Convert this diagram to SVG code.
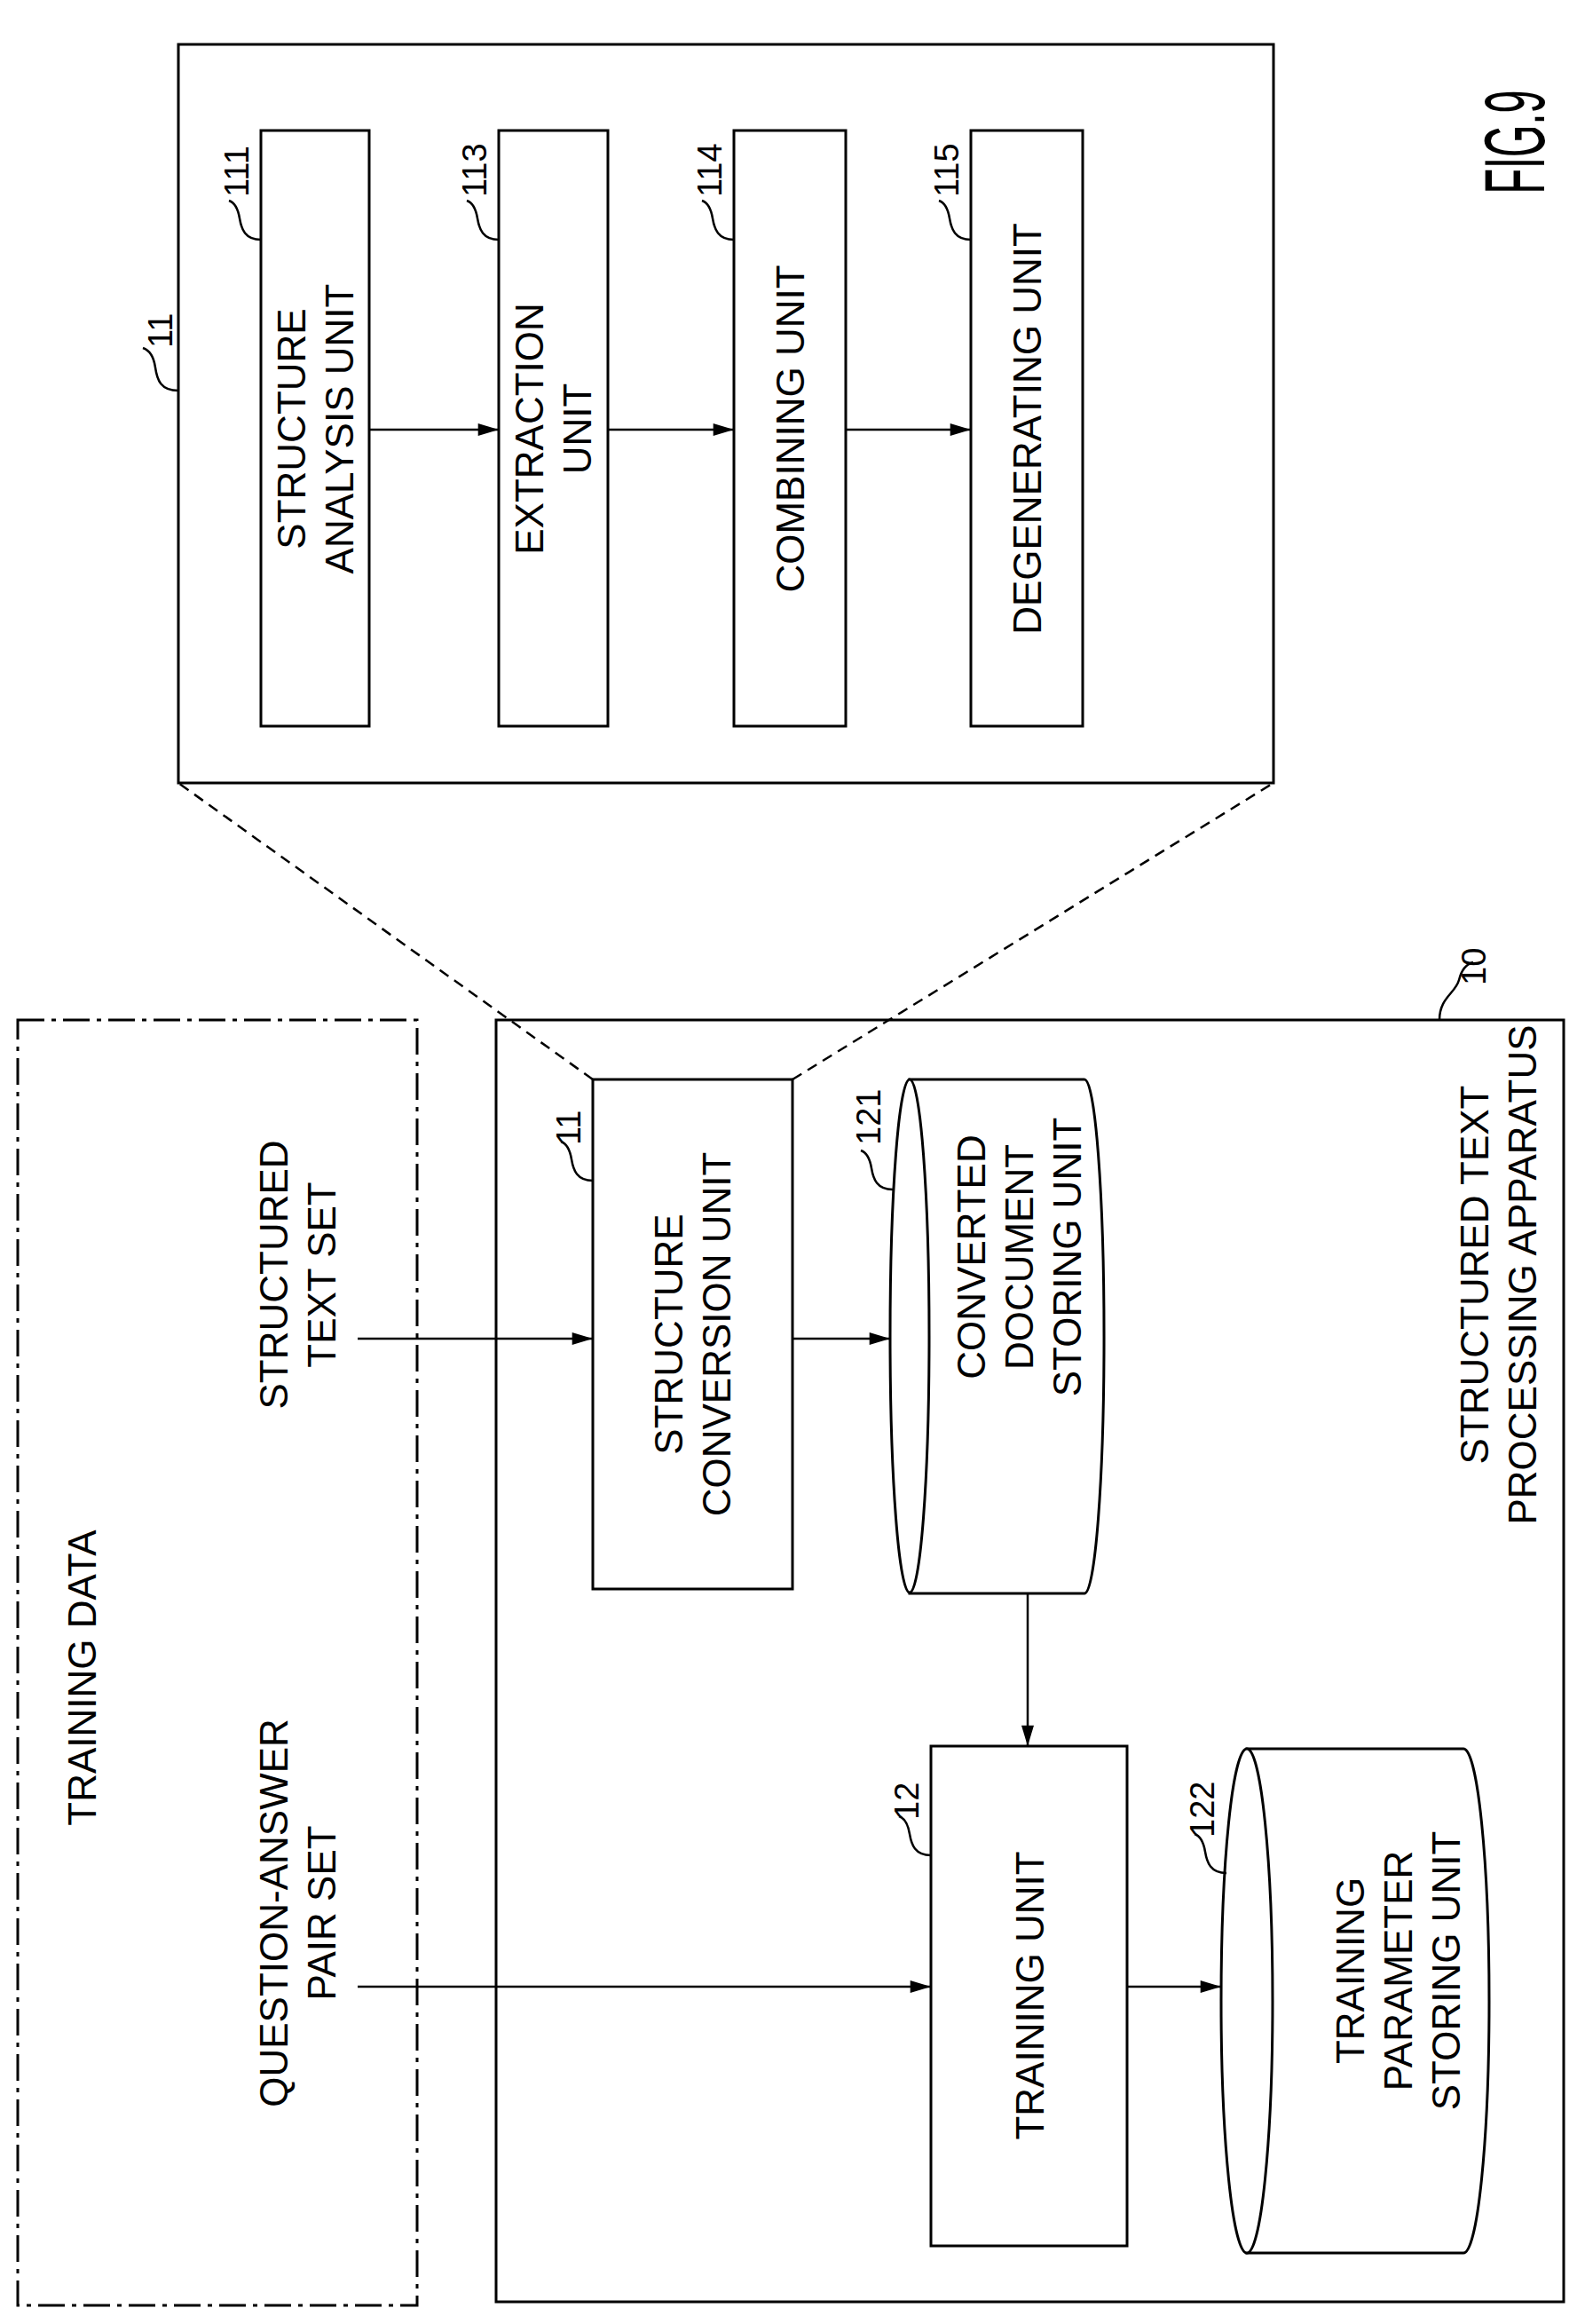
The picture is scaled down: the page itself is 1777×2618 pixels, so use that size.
<svg xmlns="http://www.w3.org/2000/svg" width="1777" height="2618" viewBox="0 0 1777 2618">
<style>
.b{fill:#fff;stroke:#000;stroke-width:3}
.n{fill:none;stroke:#000;stroke-width:2.5}
text{font-family:"Liberation Sans",Arial,sans-serif;font-size:44px;fill:#000;text-anchor:middle}
.num{font-size:38px;text-anchor:start}
</style>
<defs><marker id="ah" viewBox="0 0 20 12" refX="20" refY="6" markerWidth="24" markerHeight="14" orient="auto" markerUnits="userSpaceOnUse"><path d="M0,0L20,6L0,12z"/></marker></defs>
<rect width="1777" height="2618" fill="#fff"/>
<g id="training-data"><rect x="20" y="1149" width="450" height="1448" fill="none" stroke="#000" stroke-width="3" stroke-dasharray="30 8 5 8"/>
<text transform="translate(92,1890) rotate(-90)"><tspan x="0" dy="16">TRAINING DATA</tspan></text>
<text transform="translate(335,1436) rotate(-90)"><tspan x="0" dy="-11">STRUCTURED</tspan><tspan x="0" dy="54">TEXT SET</tspan></text>
<text transform="translate(335,2155) rotate(-90)"><tspan x="0" dy="-11">QUESTION-ANSWER</tspan><tspan x="0" dy="54">PAIR SET</tspan></text></g>
<g id="apparatus-10"><rect class="b" x="559" y="1149" width="1203" height="1444" fill="none"/>
<text transform="translate(1688,1436) rotate(-90)"><tspan x="0" dy="-11">STRUCTURED TEXT</tspan><tspan x="0" dy="54">PROCESSING APPARATUS</tspan></text>
<path class="n" d="M1622,1149c0,-25 18,-30 22,-45c3,-12 8,-18 16,-20"/><text class="num" transform="translate(1674,1110) rotate(-90)">10</text></g>
<g id="unit-11-detail"><rect class="b" x="201" y="50" width="1234" height="832"/>
<path class="n" d="M201,440c-20,0 -24,-12 -26,-26c-2,-14 -8,-20 -14,-22"/><text class="num" transform="translate(194,392) rotate(-90)">11</text></g>
<g id="n111"><rect class="b" x="294" y="147" width="122" height="671"/>
<text transform="translate(355,483) rotate(-90)"><tspan x="0" dy="-11">STRUCTURE</tspan><tspan x="0" dy="54">ANALYSIS UNIT</tspan></text>
<path class="n" d="M294,270c-18,0 -22,-12 -24,-24c-2,-12 -6,-18 -12,-20"/><text class="num" transform="translate(280,222) rotate(-90)">111</text></g>
<g id="n113"><rect class="b" x="562" y="147" width="123" height="671"/>
<text transform="translate(623,483) rotate(-90)"><tspan x="0" dy="-11">EXTRACTION</tspan><tspan x="0" dy="54">UNIT</tspan></text>
<path class="n" d="M562,270c-18,0 -22,-12 -24,-24c-2,-12 -6,-18 -12,-20"/><text class="num" transform="translate(548,222) rotate(-90)">113</text></g>
<g id="n114"><rect class="b" x="827" y="147" width="126" height="671"/>
<text transform="translate(890,483) rotate(-90)"><tspan x="0" dy="16">COMBINING UNIT</tspan></text>
<path class="n" d="M827,270c-18,0 -22,-12 -24,-24c-2,-12 -6,-18 -12,-20"/><text class="num" transform="translate(813,222) rotate(-90)">114</text></g>
<g id="n115"><rect class="b" x="1094" y="147" width="126" height="671"/>
<text transform="translate(1157,483) rotate(-90)"><tspan x="0" dy="16">DEGENERATING UNIT</tspan></text>
<path class="n" d="M1094,270c-18,0 -22,-12 -24,-24c-2,-12 -6,-18 -12,-20"/><text class="num" transform="translate(1080,222) rotate(-90)">115</text></g>
<g id="n11"><rect class="b" x="668" y="1216" width="225" height="574"/>
<text transform="translate(780,1503) rotate(-90)"><tspan x="0" dy="-11">STRUCTURE</tspan><tspan x="0" dy="54">CONVERSION UNIT</tspan></text>
<path class="n" d="M668,1330c-18,0 -22,-12 -24,-24c-2,-12 -6,-18 -12,-20"/><text class="num" transform="translate(654,1290) rotate(-90)">11</text></g>
<g id="n121"><path class="b" d="M1025,1216H1222A22,289 0 0 1 1222,1795H1025z"/><ellipse class="b" cx="1025" cy="1505" rx="22" ry="289"/>
<text transform="translate(1148,1416) rotate(-90)"><tspan x="0" dy="-38">CONVERTED</tspan><tspan x="0" dy="54">DOCUMENT</tspan><tspan x="0" dy="54">STORING UNIT</tspan></text>
<path class="n" d="M1006,1340c-18,0 -22,-12 -24,-24c-2,-12 -6,-18 -12,-20"/><text class="num" transform="translate(992,1290) rotate(-90)">121</text></g>
<g id="n12"><rect class="b" x="1049" y="1967" width="221" height="563"/>
<text transform="translate(1160,2248) rotate(-90)"><tspan x="0" dy="16">TRAINING UNIT</tspan></text>
<path class="n" d="M1049,2090c-18,0 -22,-12 -24,-24c-2,-12 -6,-18 -12,-20"/><text class="num" transform="translate(1035,2050) rotate(-90)">12</text></g>
<g id="n122"><path class="b" d="M1405,1970H1649A29,284 0 0 1 1649,2538H1405z"/><ellipse class="b" cx="1405" cy="2254" rx="29" ry="284"/>
<text transform="translate(1575,2220) rotate(-90)"><tspan x="0" dy="-38">TRAINING</tspan><tspan x="0" dy="54">PARAMETER</tspan><tspan x="0" dy="54">STORING UNIT</tspan></text>
<path class="n" d="M1382,2110c-18,0 -22,-12 -24,-24c-2,-12 -6,-18 -12,-20"/><text class="num" transform="translate(1368,2070) rotate(-90)">122</text></g>
<g id="connectors" fill="none" stroke="#000" stroke-width="2.5">
<path d="M416,484H562" marker-end="url(#ah)"/>
<path d="M685,484H827" marker-end="url(#ah)"/>
<path d="M953,484H1094" marker-end="url(#ah)"/>
<path d="M403,1508H668" marker-end="url(#ah)"/>
<path d="M893,1508H1003" marker-end="url(#ah)"/>
<path d="M1158,1795V1967" marker-end="url(#ah)"/>
<path d="M403,2238H1049" marker-end="url(#ah)"/>
<path d="M1270,2238H1376" marker-end="url(#ah)"/>
<path d="M668,1216L201,882M893,1216L1435,882" stroke-dasharray="12 8"/>
</g>
<text transform="translate(1740,160) rotate(-90)" style="font-size:96px" textLength="117" lengthAdjust="spacingAndGlyphs">FIG.9</text>
</svg>
